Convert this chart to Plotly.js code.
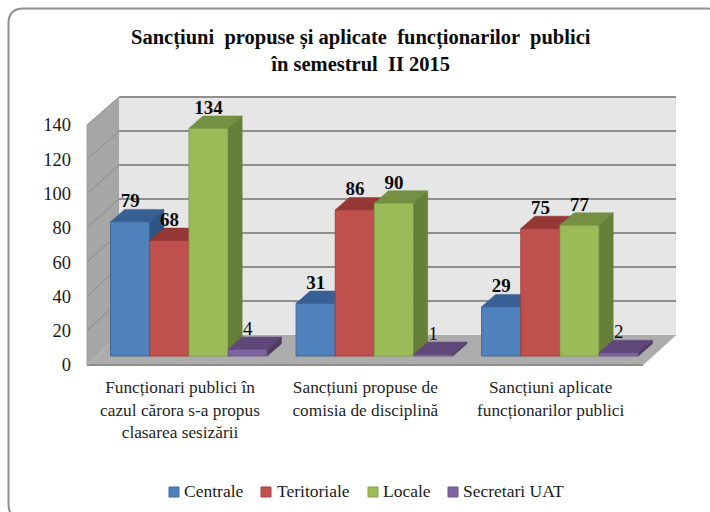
<!DOCTYPE html>
<html><head><meta charset="utf-8">
<script src="https://cdn.plot.ly/plotly-3.0.1.min.js"></script>
<style>html,body{margin:0;padding:0;background:#fff;overflow:hidden}#c{width:710px;height:512px}</style>
</head><body><div id="c"></div>
<script>
var categories = ["Funcționari publici în<br>cazul cărora s-a propus<br>clasarea sesizării","Sancțiuni propuse de<br>comisia de disciplină","Sancțiuni aplicate<br>funcționarilor publici"];
var seriesNames = ["Centrale","Teritoriale","Locale","Secretari UAT"];
var centrale = [79,31,29];
var teritoriale = [68,86,75];
var locale = [134,90,77];
var secretari = [4,1,2];
var allValues = [centrale,teritoriale,locale,secretari];
var frontColors = ["#4F81BD","#C0504D","#9BBB59","#8064A2"];
var edgeColors = ["#41689a","#a24441","#84a04b","#6c558a"];
var topColors = ["#386094","#953735","#758F43","#60497A"];
var sideColors = ["#2f5585","#7f2f2d","#667f39","#4d3b62"];
var yTicks = [0,20,40,60,80,100,120,140];

var W=710,H=512;
var L=87,R=676,T=90,B=372;
var pxX=function(p){return p/W;};
var pxY=function(p){return 1-p/H;};
var x0px=189,unitX=185.5,y0px=356,unitY=1.7;
var xRange=[(L-x0px)/unitX,(R-x0px)/unitX];
var yRange=[(y0px-B)/unitY,(y0px-T)/unitY];
var barW=39.2/unitX;
var depthX=14/unitX, depthY=12.3/unitY;
var dom={x:[L/W,R/W],y:[1-B/H,1-T/H]};

var shapes=[];
function poly(pts,fill,lineCol,lw){
  var d=pts.map(function(p,i){return (i?'L':'M')+pxX(p[0])+','+pxY(p[1]);}).join('')+'Z';
  shapes.push({type:'path',xref:'paper',yref:'paper',path:d,fillcolor:fill,line:{color:lineCol||fill,width:lw||0},layer:'below'});
}
function seg(a,b,col,w){
  shapes.push({type:'line',xref:'paper',yref:'paper',x0:pxX(a[0]),y0:pxY(a[1]),x1:pxX(b[0]),y1:pxY(b[1]),line:{color:col,width:w},layer:'below'});
}
// frame runs past the right and bottom edges of the picture
var fl=8.5,fr=722,ft=8.5,fb=519,rad=15;
shapes.push({type:'path',xref:'paper',yref:'paper',layer:'below',fillcolor:'#ffffff',line:{color:'#8f8f8f',width:2},
 path:'M'+pxX(fl+rad)+','+pxY(ft)+'L'+pxX(fr-rad)+','+pxY(ft)+'Q'+pxX(fr)+','+pxY(ft)+' '+pxX(fr)+','+pxY(ft+rad)+
 'L'+pxX(fr)+','+pxY(fb-rad)+'Q'+pxX(fr)+','+pxY(fb)+' '+pxX(fr-rad)+','+pxY(fb)+
 'L'+pxX(fl+rad)+','+pxY(fb)+'Q'+pxX(fl)+','+pxY(fb)+' '+pxX(fl)+','+pxY(fb-rad)+
 'L'+pxX(fl)+','+pxY(ft+rad)+'Q'+pxX(fl)+','+pxY(ft)+' '+pxX(fl+rad)+','+pxY(ft)+'Z'});
// walls
var wL=87,wB=119,wR=676,wFR=643,bTop=97,bBot=335,fTop=125,fBot=365;
poly([[wB,bTop],[wR,bTop],[wR,bBot],[wB,bBot]],'#e6e6e6');
poly([[wL,fTop],[wB,bTop],[wB,bBot],[wL,fBot]],'#a6a6a6');
poly([[wL,fBot],[wB,bBot],[wR,bBot],[wFR,fBot]],'#acacac');
var backUnit=(bBot-bTop)/140, frontUnit=(fBot-fTop)/140;
yTicks.forEach(function(v){
  var by=bBot-v*backUnit, fy=fBot-v*frontUnit;
  if(v>0) seg([wB,by],[wR,by],'#8f8f8f',2);
  if(v>0) seg([wL,fy],[wB,by],'#8c8c8c',1);
});
seg([wL,fTop],[wL,fBot],'#a0a0a0',1);
seg([wL,fBot],[wFR,fBot],'#8c8c8c',2);
seg([wFR,fBot],[wR,bBot],'#bdbdbd',1);

var data=[];
var serif='"Liberation Serif",serif';
var layout={width:W,height:H,margin:{l:0,r:0,t:0,b:0},paper_bgcolor:'#fff',plot_bgcolor:'rgba(0,0,0,0)',showlegend:false,shapes:shapes,annotations:[],
  font:{family:serif,color:'#111'}};
allValues.forEach(function(vals,s){
  var xa=s?'x'+(s+1):'x', ya=s?'y'+(s+1):'y';
  var xk=s?'xaxis'+(s+1):'xaxis', yk=s?'yaxis'+(s+1):'yaxis';
  layout[xk]={domain:dom.x,range:xRange,visible:false,fixedrange:true};
  layout[yk]={domain:dom.y,range:yRange,visible:false,fixedrange:true};
  if(s){layout[xk].overlaying='x';layout[yk].overlaying='y';}
  layout[xk].anchor=ya; layout[yk].anchor=xa;
  var xs=[0,1,2].map(function(i){return i+(s-1.5)*barW;});
  data.push({type:'bar',name:seriesNames[s],x:xs,y:vals,width:barW,xaxis:xa,yaxis:ya,
    marker:{color:frontColors[s],line:{color:edgeColors[s],width:1}},hoverinfo:'y'});
  vals.forEach(function(v,i){
    var a=xs[i]-barW/2,b=xs[i]+barW/2;
    data.push({type:'scatter',mode:'lines',fill:'toself',x:[a,b,b+depthX,a+depthX,a],y:[v,v,v+depthY,v+depthY,v],
      xaxis:xa,yaxis:ya,fillcolor:topColors[s],line:{color:topColors[s],width:0.5},hoverinfo:'skip'});
    data.push({type:'scatter',mode:'lines',fill:'toself',x:[b,b+depthX,b+depthX,b,b],y:[0,depthY,v+depthY,v,0],
      xaxis:xa,yaxis:ya,fillcolor:sideColors[s],line:{color:sideColors[s],width:0.5},hoverinfo:'skip'});
  });
});
allValues.forEach(function(vals,s){
  var xs=[0,1,2].map(function(i){return i+(s-1.5)*barW;});
  data.push({type:'scatter',mode:'text',x:xs,y:vals.map(function(v){return v+depthY-1.5;}),text:vals.map(String),
    textposition:'top center',xaxis:'x4',yaxis:'y4',hoverinfo:'skip',cliponaxis:false,
    textfont:{family:serif,size:19,color:'#0a0a0a',weight:s===3?400:700}});
});
// tick labels sit on the front edge of the side wall; category labels on the front floor edge
var catX0=180,catUnit=185.33;
layout.yaxis5={domain:dom.y,range:[(fBot-B)/frontUnit,(fBot-T)/frontUnit],overlaying:'y',anchor:'x5',side:'left',
  tickvals:yTicks,ticktext:yTicks.map(String),tickfont:{family:serif,size:18.5,color:'#1a1a1a'},showgrid:false,zeroline:false,showline:false,ticks:'',fixedrange:true,ticklabelstandoff:15};
layout.xaxis5={domain:dom.x,range:[(L-catX0)/catUnit,(R-catX0)/catUnit],overlaying:'x',anchor:'y5',tickvals:[0,1,2],ticktext:categories,
  tickfont:{family:serif,size:17.3,color:'#1f1f1f'},showgrid:false,zeroline:false,showline:false,ticks:'',fixedrange:true,side:'bottom',tickangle:0,ticklabelstandoff:3};
data.push({type:'scatter',mode:'markers',x:[0,1,2],y:[0,0,0],xaxis:'x5',yaxis:'y5',marker:{opacity:0,size:1},hoverinfo:'skip'});
layout.annotations.push({xref:'paper',yref:'paper',x:361/W,y:1-50/H,xanchor:'center',yanchor:'middle',showarrow:false,align:'center',
  text:'<b>Sancțiuni  propuse și aplicate  funcționarilor  publici<br>în semestrul  II 2015</b>',font:{family:serif,size:20.5,color:'#0a0a0a'}});
// legend
var legSq=[169,261,368,448], legTx=[182,275,381,461], legY=492;
seriesNames.forEach(function(n,s){
  shapes.push({type:'rect',xref:'paper',yref:'paper',layer:'below',x0:pxX(legSq[s]),x1:pxX(legSq[s]+10),y0:pxY(legY-5),y1:pxY(legY+5),
    fillcolor:frontColors[s],line:{color:edgeColors[s],width:1}});
  layout.annotations.push({xref:'paper',yref:'paper',x:legTx[s]/W,y:pxY(legY-1),xanchor:'left',yanchor:'middle',showarrow:false,text:n,
    font:{family:serif,size:17.5,color:'#1a1a1a'}});
});
Plotly.newPlot('c',data,layout,{displayModeBar:false,staticPlot:true});
</script></body></html>
